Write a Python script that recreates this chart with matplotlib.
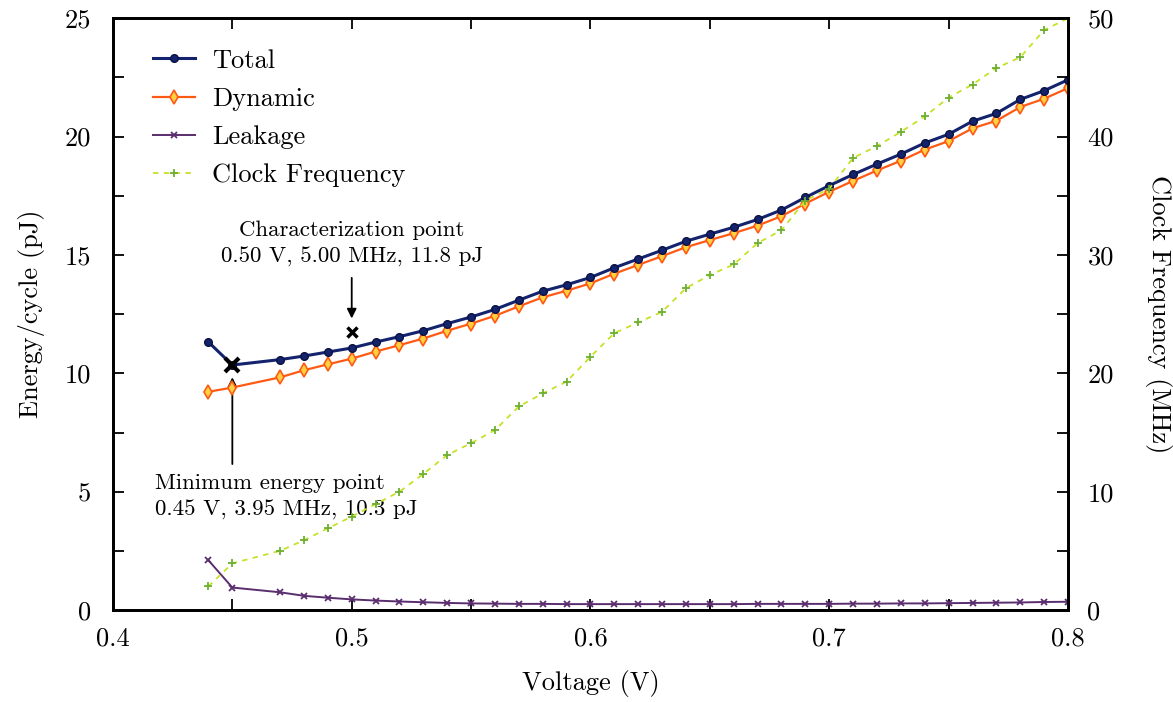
import matplotlib
matplotlib.use("Agg")
import matplotlib.pyplot as plt
from matplotlib.ticker import MultipleLocator

plt.rcParams['font.family'] = ['cmr10', 'DejaVu Serif']
plt.rcParams['mathtext.fontset'] = 'cm'
plt.rcParams['axes.unicode_minus'] = False

voltage = [0.44, 0.45, 0.47, 0.48, 0.49, 0.50, 0.51, 0.52, 0.53, 0.54, 0.55, 0.56,
           0.57, 0.58, 0.59, 0.60, 0.61, 0.62, 0.63, 0.64, 0.65, 0.66, 0.67, 0.68,
           0.69, 0.70, 0.71, 0.72, 0.73, 0.74, 0.75, 0.76, 0.77, 0.78, 0.79, 0.80]
total = [11.32, 10.35, 10.58, 10.73, 10.90, 11.07, 11.32, 11.55, 11.80, 12.10, 12.38, 12.70,
         13.09, 13.47, 13.74, 14.05, 14.46, 14.83, 15.20, 15.58, 15.88, 16.17, 16.50, 16.90,
         17.43, 17.93, 18.40, 18.84, 19.26, 19.73, 20.10, 20.65, 20.98, 21.57, 21.94, 22.40]
leakage = [2.10, 0.95, 0.75, 0.60, 0.52, 0.45, 0.40, 0.36, 0.33, 0.30, 0.28, 0.27,
           0.26, 0.26, 0.25, 0.25, 0.25, 0.25, 0.25, 0.25, 0.25, 0.25, 0.26, 0.26,
           0.26, 0.26, 0.27, 0.27, 0.28, 0.28, 0.29, 0.30, 0.31, 0.32, 0.34, 0.35]
dynamic = [9.22, 9.40, 9.83, 10.13, 10.38, 10.62, 10.92, 11.19, 11.47, 11.80, 12.10, 12.43,
           12.83, 13.21, 13.49, 13.80, 14.21, 14.58, 14.95, 15.33, 15.63, 15.92, 16.24, 16.64,
           17.17, 17.67, 18.13, 18.57, 18.98, 19.45, 19.81, 20.35, 20.67, 21.25, 21.60, 22.05]
clock = [2.0, 3.95, 5.0, 5.9, 6.9, 7.9, 8.95, 10.0, 11.5, 13.1, 14.1, 15.2,
         17.2, 18.3, 19.3, 21.4, 23.4, 24.3, 25.2, 27.2, 28.3, 29.2, 31.0, 32.1,
         34.6, 35.6, 38.2, 39.2, 40.4, 41.7, 43.3, 44.4, 45.8, 46.7, 49.0, 50.0]

min_pt = (0.45, 10.35)
char_pt = (0.50, 11.75)
min_label = "Minimum energy point\n0.45 V, 3.95 MHz, 10.3 pJ"
char_label = "Characterization point\n0.50 V, 5.00 MHz, 11.8 pJ"

fig = plt.figure(figsize=(11.73, 7.02), dpi=100)
ax = fig.add_axes([0.0963, 0.131, 0.8142, 0.843])
ax2 = ax.twinx()

l_tot, = ax.plot(voltage, total, color='#14236e', lw=2.2, marker='o', ms=5.5,
                 mfc='#14236e', mec='#0a1240', label='Total', zorder=5)
l_dyn, = ax.plot(voltage, dynamic, color='#ff5a14', lw=1.6, marker='d', ms=7,
                 mfc='#ffd040', mec='#ff5a14', mew=1.2, label='Dynamic', zorder=4)
l_lk, = ax.plot(voltage, leakage, color='#5a2d6e', lw=1.4, marker='x', ms=4.5,
                mew=1.3, label='Leakage', zorder=4)
l_clk, = ax2.plot(voltage, clock, color='#c8e028', lw=1.3, ls=(0, (3, 3)),
                  marker='+', ms=6, mec='#6cb030', mew=1.3, label='Clock Frequency')

ax.plot([min_pt[0]], [min_pt[1]], marker='x', color='black', ms=10, mew=3, zorder=7)
ax.plot([char_pt[0]], [char_pt[1]], marker='x', color='black', ms=7, mew=2.5, zorder=7)

ax.annotate('', xy=(0.50, 12.2), xytext=(0.50, 14.15),
            arrowprops=dict(arrowstyle='-|>', color='black', lw=1.3, mutation_scale=14))
ax.annotate('', xy=(0.45, 9.95), xytext=(0.45, 6.05),
            arrowprops=dict(arrowstyle='-|>', color='black', lw=1.3, mutation_scale=14))
ax.text(0.50, 14.5, char_label, ha='center', va='bottom', fontsize=16.5, linespacing=1.45)
ax.text(0.4175, 5.75, min_label, ha='left', va='top', fontsize=16.5, linespacing=1.45)

ax.set_xlim(0.4, 0.8)
ax.set_ylim(0, 25)
ax2.set_ylim(0, 50)
ax.xaxis.set_major_locator(MultipleLocator(0.1))
ax.xaxis.set_minor_locator(MultipleLocator(0.05))
ax.yaxis.set_major_locator(MultipleLocator(5))
ax.yaxis.set_minor_locator(MultipleLocator(2.5))
ax2.yaxis.set_major_locator(MultipleLocator(10))
ax2.yaxis.set_minor_locator(MultipleLocator(5))
ax.xaxis.set_major_formatter(plt.FuncFormatter(lambda v, p: f"{v:.1f}"))

for a in (ax, ax2):
    a.tick_params(which='both', direction='in', labelsize=19, width=1.3)
    a.tick_params(which='major', length=8)
    a.tick_params(which='minor', length=8)
    for s in a.spines.values():
        s.set_linewidth(2.0)
ax.tick_params(axis='x', which='both', top=True, pad=12)
ax.tick_params(axis='y', which='both', right=False, pad=16)
ax2.tick_params(axis='y', which='both', pad=14)

ax.set_xlabel('Voltage (V)', fontsize=19, labelpad=14)
ax.set_ylabel('Energy/cycle (pJ)', fontsize=19, labelpad=14)
ax2.set_ylabel('Clock Frequency (MHz)', fontsize=19, rotation=270, labelpad=42)

leg = ax.legend(handles=[l_tot, l_dyn, l_lk, l_clk], loc='upper left', frameon=False,
                fontsize=19, handlelength=1.6, handletextpad=0.65, labelspacing=0.55,
                bbox_to_anchor=(0.025, 0.975), borderaxespad=0.2)

fig.savefig('out.png', dpi=100)
